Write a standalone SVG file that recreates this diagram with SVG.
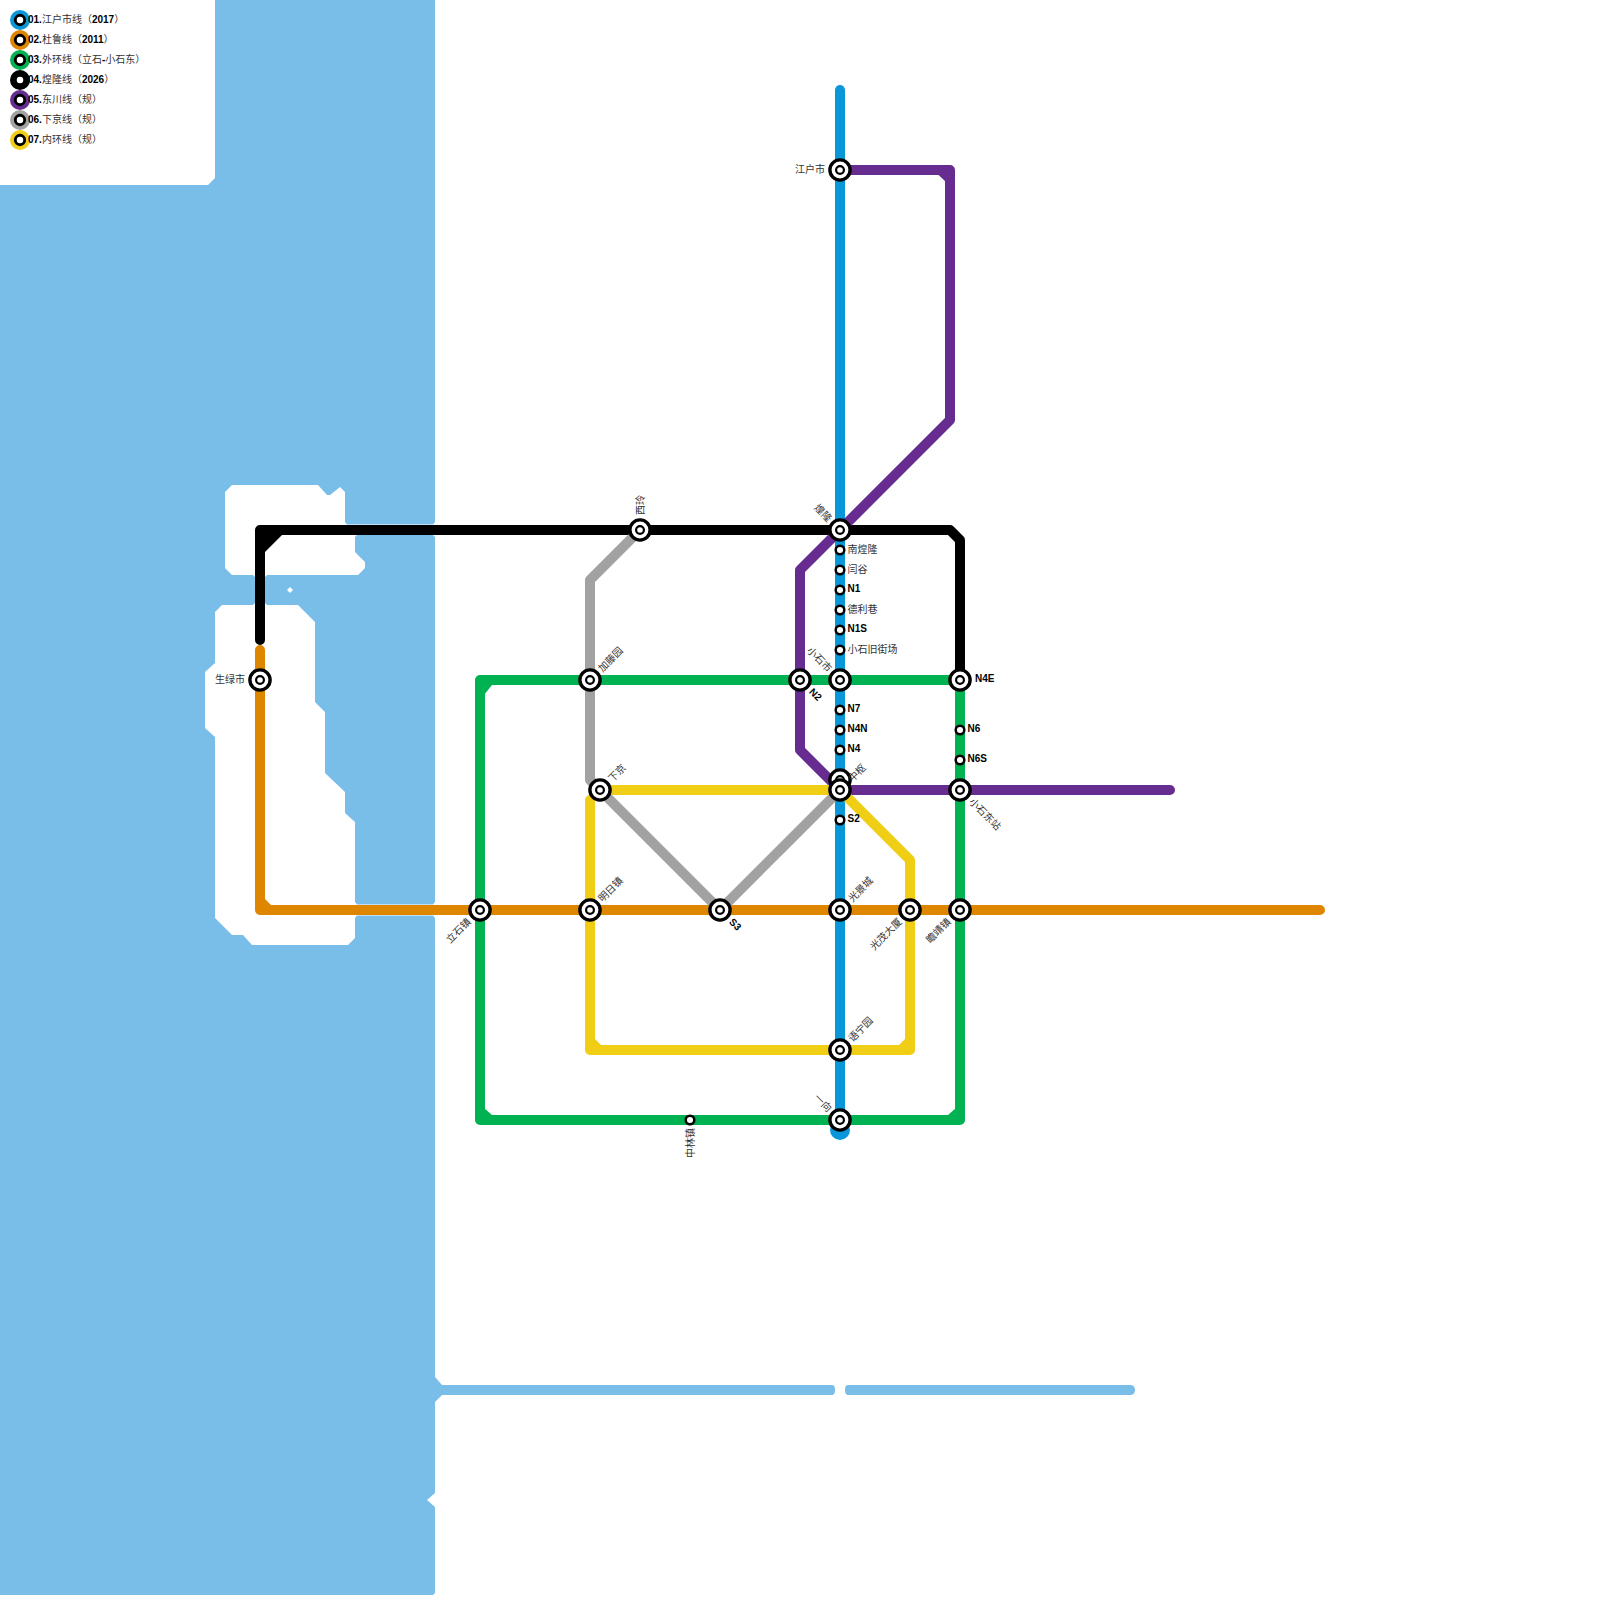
<svg xmlns="http://www.w3.org/2000/svg" width="1600" height="1600" viewBox="0 0 1600 1600">
<style>
.w{fill:#79bde9}
.ln{fill:none;stroke-width:10;stroke-linecap:round;stroke-linejoin:round}
.o{fill:#fff;stroke:#000;stroke-width:3.4}
.i{fill:#fff;stroke:#000;stroke-width:2.2}
.s{fill:#fff;stroke:#000;stroke-width:2.5}
.l{fill:#fff;stroke:#000;stroke-width:2.9}
text{font-family:"Noto Sans CJK SC","Liberation Sans",sans-serif;font-size:10px;fill:#333;text-spacing-trim:space-all}
.b{font-family:"Liberation Sans",sans-serif;font-weight:700;fill:#000}
.e{text-anchor:end}
</style>
<defs>
<g id="big"><circle class="o" r="10.100"/><circle class="i" r="3.900"/></g>
<circle id="small" class="s" r="4.300"/>
</defs>
<rect width="1600" height="1600" fill="#fff"/>
<g id="water">
<path class="w" d="M215 0H435V522L433 524.500H347L345 522V492L340 487L330 495H327L318 485H232L225 492V568L232 575H253L255 577V603L253 605H222L215 612V663L205 672V728L215 737V918L232 935H243L252 945H348L355 938V918L357 915.500H433L435 918V1377L442 1385H832Q835 1385 835 1390Q835 1395 832 1395H442L435 1402V1493L427 1500L435 1507V1593L433 1595H0V185H208L215 178Z"/>
<path class="w" d="M357 535H433L435 537V902L433 904.500H357L355 902V822L345 813V792L325 773V712L315 702V622L298 605H267L265 603V577L267 575H358L365 568V562L355 552V537Z"/>
<path class="w" d="M848 1385H1130Q1135 1385 1135 1390Q1135 1395 1130 1395H848Q845 1395 845 1390Q845 1385 848 1385Z"/>
<path d="M290 587L293 590L290 593L287 590Z" fill="#fff"/>
</g>
<g id="connectors">
<circle cx="840" cy="1130" r="10" fill="#0a97d9"/>
<path class="ln" stroke="#0a97d9" d="M840 90V1130"/>
<path class="ln" stroke="#000" d="M260 640V530H950L960 540V680"/>
<path d="M264 535H282L265 552H264Z" fill="#000"/>
<path class="ln" stroke="#00b251" d="M480 680H960V1120H480Z"/>
<path d="M484 695L492 685H484ZM484 1108L492 1115H484ZM956 1108L948 1115H956Z" fill="#00b251"/>
<path class="ln" stroke="#df8600" d="M260 650V910H1320"/>
<path d="M264 898L272 906H264Z" fill="#df8600"/>
<path class="ln" stroke="#662c90" d="M840 170H950V420L800 570V750L840 790H1170"/>
<path d="M938 174.500L946 182V174.500Z" fill="#662c90"/>
<path class="ln" stroke="#a2a2a2" d="M640 530L590 580V780L720 910L840 790"/>
<path class="ln" stroke="#f0ce15" d="M590 800V1050H910V860L840 790H600"/>
<path d="M594 1038L602 1046H594ZM906 1038L898 1046H906Z" fill="#f0ce15"/>
</g>
<g id="legend">
<g><circle cx="20" cy="20" r="10" fill="#0a97d9"/><circle class="l" cx="20" cy="20" r="4.700"/><text x="28" y="22.500"><tspan class="b">01.</tspan>江户市线（<tspan class="b">2017</tspan>）</text></g>
<g><circle cx="20" cy="40" r="10" fill="#df8600"/><circle class="l" cx="20" cy="40" r="4.700"/><text x="28" y="42.500"><tspan class="b">02.</tspan>杜鲁线（<tspan class="b">2011</tspan>）</text></g>
<g><circle cx="20" cy="60" r="10" fill="#00b251"/><circle class="l" cx="20" cy="60" r="4.700"/><text x="28" y="62.500"><tspan class="b">03.</tspan>外环线（立石<tspan class="b">-</tspan>小石东）</text></g>
<g><circle cx="20" cy="80" r="10" fill="#000"/><circle class="l" cx="20" cy="80" r="4.700"/><text x="28" y="82.500"><tspan class="b">04.</tspan>煌隆线（<tspan class="b">2026</tspan>）</text></g>
<g><circle cx="20" cy="100" r="10" fill="#662c90"/><circle class="l" cx="20" cy="100" r="4.700"/><text x="28" y="102.500"><tspan class="b">05.</tspan>东川线（规）</text></g>
<g><circle cx="20" cy="120" r="10" fill="#a2a2a2"/><circle class="l" cx="20" cy="120" r="4.700"/><text x="28" y="122.500"><tspan class="b">06.</tspan>下京线（规）</text></g>
<g><circle cx="20" cy="140" r="10" fill="#f0ce15"/><circle class="l" cx="20" cy="140" r="4.700"/><text x="28" y="142.500"><tspan class="b">07.</tspan>内环线（规）</text></g>
</g>
<g id="st-jianghu"><use href="#big" x="840" y="170"/><text class="e" x="825" y="173">江户市</text></g>
<g id="st-huanglong"><use href="#big" x="840" y="530"/><text class="e" transform="translate(830 520) rotate(45)" y="3.500">煌隆</text></g>
<g id="st-xiling"><use href="#big" x="640" y="530"/><text transform="translate(640 515) rotate(-90)" y="3.500">西玲</text></g>
<g id="st-nanhuanglong"><use href="#small" x="840" y="550"/><text x="847.500" y="553">南煌隆</text></g>
<g id="st-yangu"><use href="#small" x="840" y="570"/><text x="847.500" y="573">闫谷</text></g>
<g id="st-n1"><use href="#small" x="840" y="590"/><text class="b" x="847.500" y="592">N1</text></g>
<g id="st-delixiang"><use href="#small" x="840" y="610"/><text x="847.500" y="613">德利巷</text></g>
<g id="st-n1s"><use href="#small" x="840" y="630"/><text class="b" x="847.500" y="632">N1S</text></g>
<g id="st-xsjjc"><use href="#small" x="840" y="650"/><text x="847.500" y="653">小石旧街场</text></g>
<g id="st-shenglv"><use href="#big" x="260" y="680"/><text class="e" x="245" y="683">生绿市</text></g>
<g id="st-jiateng"><use href="#big" x="590" y="680"/><text transform="translate(600 670) rotate(-45)" y="3.500">加藤园</text></g>
<g id="st-n2"><use href="#big" x="800" y="680"/><text class="b" transform="translate(811 690) rotate(45)" y="3.500">N2</text></g>
<g id="st-xiaoshi"><use href="#big" x="840" y="680"/><text class="e" transform="translate(830 670) rotate(45)" y="3.500">小石市</text></g>
<g id="st-n4e"><use href="#big" x="960" y="680"/><text class="b" x="975" y="682">N4E</text></g>
<g id="st-n7"><use href="#small" x="840" y="710"/><text class="b" x="847.500" y="712">N7</text></g>
<g id="st-n4n"><use href="#small" x="840" y="730"/><text class="b" x="847.500" y="732">N4N</text></g>
<g id="st-n4"><use href="#small" x="840" y="750"/><text class="b" x="847.500" y="752">N4</text></g>
<g id="st-n6"><use href="#small" x="960" y="730"/><text class="b" x="967.500" y="732">N6</text></g>
<g id="st-n6s"><use href="#small" x="960" y="760"/><text class="b" x="967.500" y="762">N6S</text></g>
<g id="st-zhongshu"><use href="#big" x="840" y="780"/><text transform="translate(850 780) rotate(-45)" y="3.500">中枢</text></g>
<g id="st-zhongshu2"><use href="#big" x="840" y="790"/></g>
<g id="st-xiajing"><use href="#big" x="600" y="790"/><text transform="translate(610 780) rotate(-45)" y="3.500">下京</text></g>
<g id="st-xsdz"><use href="#big" x="960" y="790"/><text transform="translate(971 800) rotate(45)" y="3.500">小石东站</text></g>
<g id="st-s2"><use href="#small" x="840" y="820"/><text class="b" x="847.500" y="822">S2</text></g>
<g id="st-lishi"><use href="#big" x="480" y="910"/><text class="e" transform="translate(469 920) rotate(-45)" y="3.500">立石镇</text></g>
<g id="st-mingri"><use href="#big" x="590" y="910"/><text transform="translate(600 900) rotate(-45)" y="3.500">明日镇</text></g>
<g id="st-s3"><use href="#big" x="720" y="910"/><text class="b" transform="translate(731 920) rotate(45)" y="3.500">S3</text></g>
<g id="st-guangjing"><use href="#big" x="840" y="910"/><text transform="translate(850 900) rotate(-45)" y="3.500">光景城</text></g>
<g id="st-guangmao"><use href="#big" x="910" y="910"/><text class="e" transform="translate(900 920) rotate(-45)" y="3.500">光茂大厦</text></g>
<g id="st-qijing"><use href="#big" x="960" y="910"/><text class="e" transform="translate(949 920) rotate(-45)" y="3.500">瞻靖镇</text></g>
<g id="st-yuning"><use href="#big" x="840" y="1050"/><text transform="translate(850 1040) rotate(-45)" y="3.500">语宁园</text></g>
<g id="st-yiju"><use href="#big" x="840" y="1120"/><text class="e" transform="translate(830 1110) rotate(45)" y="3.500">一向</text></g>
<g id="st-zhonglin"><use href="#small" x="690" y="1120"/><text class="e" transform="translate(690 1128) rotate(-90)" y="3.500">中林镇</text></g>
</svg>
